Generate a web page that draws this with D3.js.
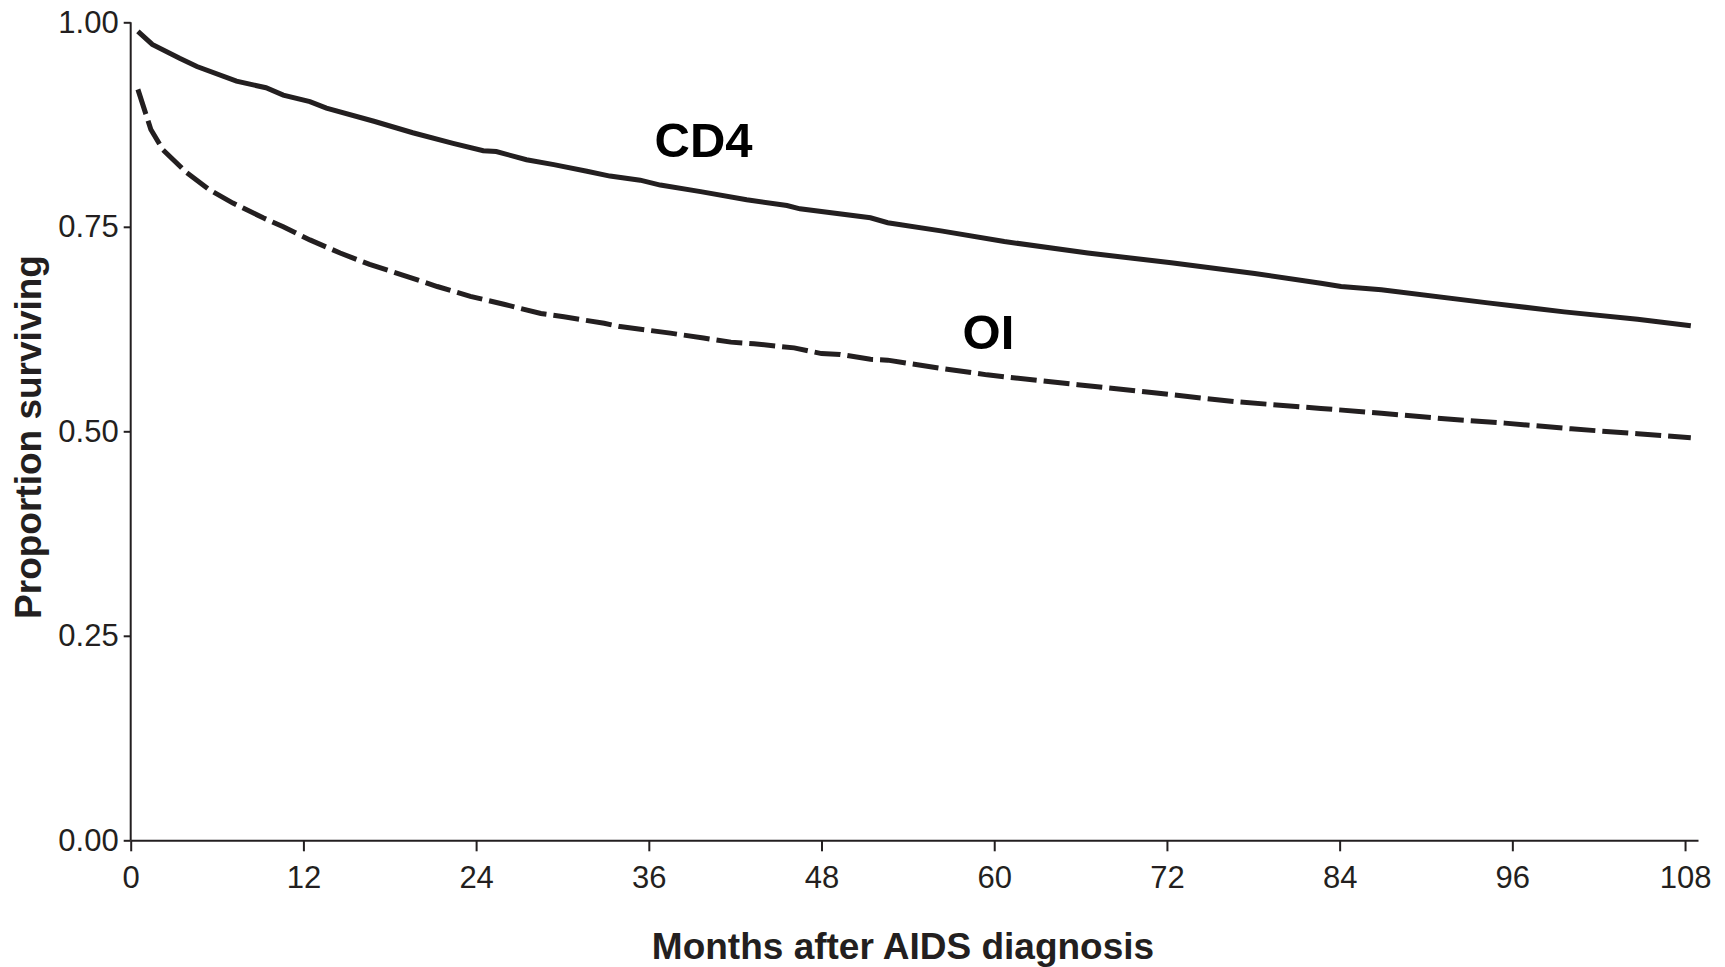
<!DOCTYPE html>
<html>
<head>
<meta charset="utf-8">
<script src="https://cdn.jsdelivr.net/npm/d3@7"></script>
<style>
  body { margin: 0; background: #fff; }
  svg { display: block; font-family: "Liberation Sans", Arial, Helvetica, sans-serif; }
  .axis path, .axis line { stroke: #231f20; stroke-width: 2px; }
  .axis text { fill: #231f20; font-size: 31px; }
</style>
</head>
<body>
<svg width="1725" height="967"></svg>
<script>
// survival curves (months, proportion surviving)
const cd4Months = [0.5, 1.5, 3.4, 4.6, 7.35, 9.4, 10.6, 12.45, 13.6, 16.9, 19.6, 22.4, 24.5, 25.4,
  27.5, 29.4, 31.7, 33.3, 35.4, 36.8, 39.6, 42.8, 45.6, 46.5, 51.4, 52.6, 56.3, 60.7, 66.5,
  72.3, 78.1, 82.7, 84.1, 86.9, 94.3, 99.6, 104.7, 108.4];
const cd4Values = [0.989, 0.973, 0.956, 0.946, 0.928, 0.920, 0.911, 0.903, 0.895, 0.879, 0.865, 0.852, 0.843, 0.842,
  0.832, 0.826, 0.818, 0.812, 0.807, 0.801, 0.793, 0.783, 0.776, 0.772, 0.761, 0.755, 0.745, 0.732, 0.718,
  0.706, 0.693, 0.681, 0.677, 0.673, 0.657, 0.646, 0.637, 0.629];

const oiMonths = [0.5, 1.4, 2.25, 3.9, 5.5, 7.1, 9.2, 10.6, 12.45, 14.55, 16.6, 18.9, 21.3, 23.6, 26, 28.5,
  30.1, 32.9, 34, 37.5, 39.8, 41.7, 43.3, 46.1, 48, 49.3, 51.4, 52.6, 56.3, 59.5, 65.8, 71.1, 76.9,
  82.7, 86.9, 91.5, 95.5, 100.1, 104.7, 108.4];
const oiValues = [0.918, 0.869, 0.844, 0.816, 0.795, 0.779, 0.761, 0.750, 0.734, 0.718, 0.704, 0.691, 0.677, 0.665, 0.655, 0.644,
  0.640, 0.632, 0.628, 0.620, 0.614, 0.609, 0.607, 0.602, 0.595, 0.594, 0.588, 0.587, 0.577, 0.569, 0.557, 0.547, 0.536,
  0.528, 0.522, 0.515, 0.510, 0.503, 0.497, 0.492];

const xTicks = [0, 12, 24, 36, 48, 60, 72, 84, 96, 108];
const yTicks = [0, 0.25, 0.5, 0.75, 1];
const xMax = 108.9; // axis line runs a little past the last tick

let svg = d3.select('svg'),
  plotLeft = 130.7,
  plotTop = 22.3,
  plotBottom = 840.3,
  plotRight = 1698;

let x = d3.scaleLinear().domain([0, xMax]).range([plotLeft, plotRight]);
let y = d3.scaleLinear().domain([0, 1]).range([plotBottom, plotTop]);

// axes
svg.append('g')
  .attr('class', 'axis')
  .attr('transform', `translate(0,${plotBottom})`)
  .call(d3.axisBottom(x).tickValues(xTicks).tickSize(11).tickSizeOuter(0).tickPadding(15))
  .call(g => g.selectAll('text').attr('dy', '0.71em'));

svg.append('g')
  .attr('class', 'axis')
  .attr('transform', `translate(${plotLeft},0)`)
  .call(d3.axisLeft(y).tickValues(yTicks).tickFormat(d3.format('.2f')).tickSize(7).tickSizeOuter(0).tickPadding(5))
  .call(g => g.select('.domain').attr('d', `M0,${y(1)}V${y(0)}`));

// curves
let line = d3.line()
  .x(d => x(d[0]))
  .y(d => y(d[1]));

svg.append('path')
  .datum(d3.zip(cd4Months, cd4Values))
  .attr('d', line)
  .attr('fill', 'none')
  .attr('stroke', '#231f20')
  .attr('stroke-width', 5);

svg.append('path')
  .datum(d3.zip(oiMonths, oiValues))
  .attr('d', line)
  .attr('fill', 'none')
  .attr('stroke', '#231f20')
  .attr('stroke-width', 5)
  .attr('stroke-dasharray', '26 7');

// curve labels
svg.append('text')
  .attr('x', x(36.4)).attr('y', y(0.835))
  .attr('font-size', 49).attr('font-weight', 'bold').attr('fill', '#000')
  .text('CD4');

svg.append('text')
  .attr('x', x(57.8)).attr('y', y(0.601))
  .attr('font-size', 49).attr('font-weight', 'bold').attr('fill', '#000')
  .text('OI');

// axis titles
svg.append('text')
  .attr('x', 903).attr('y', 959)
  .attr('text-anchor', 'middle')
  .attr('font-size', 37).attr('font-weight', 'bold').attr('fill', '#231f20')
  .text('Months after AIDS diagnosis');

svg.append('text')
  .attr('transform', 'translate(41,437) rotate(-90)')
  .attr('text-anchor', 'middle')
  .attr('font-size', 37).attr('font-weight', 'bold').attr('fill', '#231f20')
  .text('Proportion surviving');
</script>
</body>
</html>
